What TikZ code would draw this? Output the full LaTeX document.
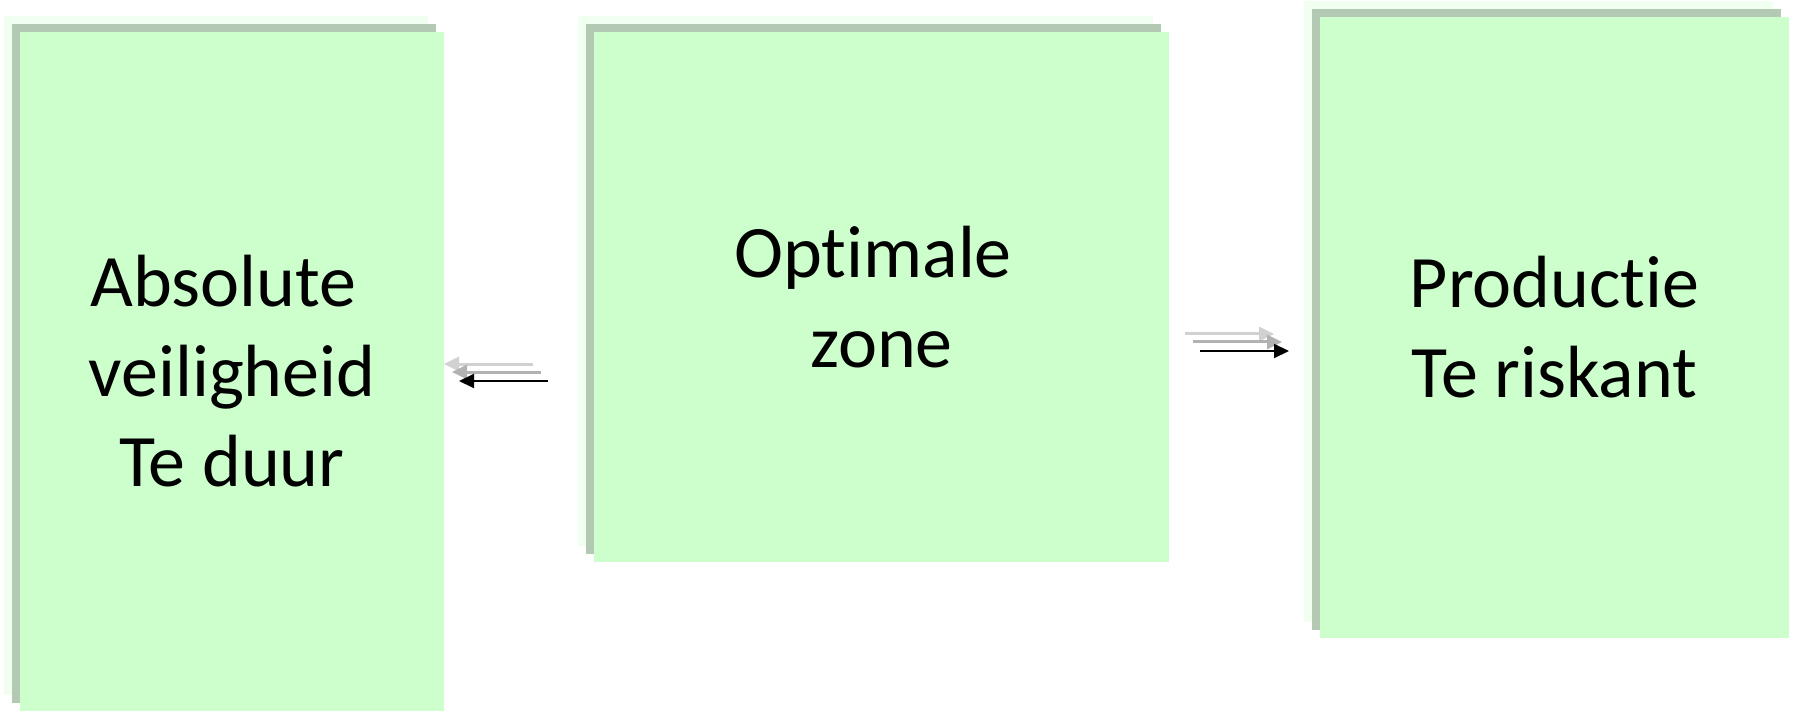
\documentclass[tikz,border=0pt]{standalone}
\usepackage{fontspec}
\setmainfont[Ligatures=NoCommon]{Carlito}
\usetikzlibrary{shadows,arrows.meta}
\definecolor{zonegreen}{HTML}{CCFFCC}
\definecolor{zoneshade}{HTML}{B4C9B4}
\definecolor{zoneglow}{HTML}{F0FFF0}

\begin{document}
\begin{tikzpicture}[x=0.5pt,y=-0.5pt,
  zone/.style={fill=zonegreen,draw=none,inner sep=0pt,align=center,
    font=\fontsize{37}{45}\selectfont,
    general shadow={fill=zoneglow,shadow xshift=-8pt,shadow yshift=8pt},
    general shadow={fill=zoneshade,shadow xshift=-4pt,shadow yshift=4pt}},
  push/.style={line width=1pt,-{Triangle[length=7.5pt,width=7pt]},
    preaction={draw=black!18,line width=1.5pt,transform canvas={shift={(-7.5pt,8.5pt)}}},
    preaction={draw=black!30,line width=1.5pt,transform canvas={shift={(-3.5pt,4.5pt)}}}}]
\useasboundingbox (0,0) rectangle (1794,711);
\draw (232,371.5) node[zone,minimum width=212pt,minimum height=339.5pt](absolute) {Absolute\hspace*{0.23em}\\veiligheid\\Te duur};
\draw (881.5,297) node[zone,minimum width=287.5pt,minimum height=265pt](optimal) {Optimale\hspace*{0.23em}\\zone};
\draw (1554.5,327.5) node[zone,minimum width=234.5pt,minimum height=310.5pt](production) {Productie\\Te riskant};
\coordinate (leftfrom) at (548,381);
\coordinate (leftto) at (459,381);
\coordinate (rightfrom) at (1200,351);
\coordinate (rightto) at (1289,351);
\draw[push] (leftfrom) -- (leftto);
\draw[push] (rightfrom) -- (rightto);
\end{tikzpicture}
\end{document}
